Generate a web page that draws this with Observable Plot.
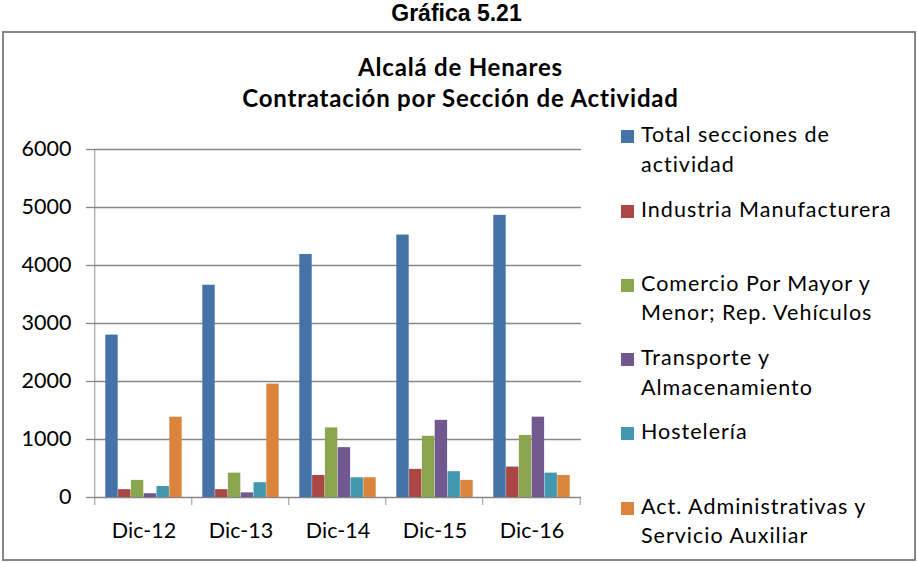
<!DOCTYPE html>
<html>
<head>
<meta charset="utf-8">
<script src="https://cdn.jsdelivr.net/npm/d3@7"></script>
<script src="https://cdn.jsdelivr.net/npm/@observablehq/plot@0.6"></script>
<style>
  html, body { margin: 0; padding: 0; background: #fff; }
  body { width: 917px; height: 563px; position: relative; overflow: hidden; font-family: Lato, sans-serif; color: #000; }
  #sup { position: absolute; left: 0; top: 0px; width: 913px; text-align: center; font: bold 23px "Liberation Sans", Arial, sans-serif; line-height: 26px; }
  #box { position: absolute; left: 2px; top: 31px; width: 914px; height: 530px; border: 2px solid #878787; box-sizing: border-box; }
  #title { position: absolute; left: 0; top: 51px; width: 921px; text-align: center; font-weight: bold; font-size: 24px; letter-spacing: 0.8px; line-height: 31px; }
  #chart { position: absolute; left: 0; top: 130px; }
  .lg { position: absolute; left: 641px; font-size: 21.5px; letter-spacing: 1px; line-height: 29.5px; white-space: nowrap; }
  .sw { position: absolute; left: 621px; width: 13px; height: 13px; }
</style>
</head>
<body>
<div id="sup">Gráfica 5.21</div>
<div id="box"></div>
<div id="title">Alcalá de Henares<br>Contratación por Sección de Actividad</div>
<div id="chart"></div>
<div id="legend"></div>
<script>
// ---- data ----
const categories = ["Dic-12", "Dic-13", "Dic-14", "Dic-15", "Dic-16"];
const seriesNames = [
  "Total secciones de actividad",
  "Industria Manufacturera",
  "Comercio Por Mayor y Menor; Rep. Vehículos",
  "Transporte y Almacenamiento",
  "Hostelería",
  "Act. Administrativas y Servicio Auxiliar"
];
const legendLines = [
  ["Total secciones de", "actividad"],
  ["Industria Manufacturera"],
  ["Comercio Por Mayor y", "Menor; Rep. Vehículos"],
  ["Transporte y", "Almacenamiento"],
  ["Hostelería"],
  ["Act. Administrativas y", "Servicio Auxiliar"]
];
const totalSecciones = [2800, 3660, 4190, 4525, 4865];
const industria = [135, 135, 380, 485, 525];
const comercio = [295, 420, 1200, 1055, 1070];
const transporte = [65, 80, 860, 1330, 1385];
const hosteleria = [190, 255, 340, 445, 420];
const administrativas = [1385, 1955, 340, 295, 380];
const yTicks = [0, 1000, 2000, 3000, 4000, 5000, 6000];
const colors = ["#4572A7", "#AA4643", "#89A54E", "#71588F", "#4198AF", "#DB843D"];

const seriesValues = [totalSecciones, industria, comercio, transporte, hosteleria, administrativas];

// ---- layout ----
const W = 600, H = 430, mL = 94, mR = 19, mT = 19, mB = 63;
const step = (W - mL - mR) / categories.length;
const barW = 12.8;
const off = (step - barW * seriesValues.length) / 2;
const grey = "#878787";

const rows = seriesValues.map((vals, s) =>
  categories.map((c, j) => ({category: c, series: seriesNames[s], value: vals[j]}))
);

const barMarks = rows.map((data, s) =>
  Plot.barY(data, {
    x: "category",
    y: "value",
    fill: colors[s],
    insetLeft: off + s * barW,
    insetRight: step - off - (s + 1) * barW
  })
);

const lw = 1.3;
const plot = Plot.plot({
  width: W,
  height: H,
  marginLeft: mL,
  marginRight: mR,
  marginTop: mT,
  marginBottom: mB,
  style: {fontFamily: "Lato, sans-serif", fontSize: "21.5px", background: "transparent", color: "#000"},
  x: {type: "band", domain: categories, padding: 0, axis: null},
  y: {domain: [0, 6000], axis: null},
  marks: [
    Plot.ruleY(yTicks, {stroke: grey, strokeWidth: lw}),
    // y axis line
    Plot.barY([categories[0]], {x: d => d, y1: 0, y2: 6000, fill: grey, insetLeft: -lw / 2, insetRight: step - lw / 2}),
    // category boundary ticks
    Plot.barY(categories, {x: d => d, y1: 0, y2: 0, fill: grey, insetLeft: -lw / 2, insetRight: step - lw / 2, insetBottom: -8}),
    Plot.barY([categories[categories.length - 1]], {x: d => d, y1: 0, y2: 0, fill: grey, insetLeft: step - lw / 2, insetRight: -lw / 2, insetBottom: -8}),
    ...barMarks,
    Plot.axisY({ticks: yTicks, tickSize: 8, tickPadding: 15, stroke: grey, strokeWidth: lw, fill: "#000", label: null, tickFormat: d => String(d)}),
    Plot.axisX({tickSize: 0, tickPadding: 25, fill: "#000", label: null})
  ]
});
document.getElementById("chart").appendChild(plot);

// ---- legend ----
const legend = document.getElementById("legend");
const entryStep = 74.3;
legendLines.forEach((lines, k) => {
  const sw = document.createElement("div");
  sw.className = "sw";
  sw.style.top = (130.2 + k * entryStep) + "px";
  sw.style.background = colors[k];
  legend.appendChild(sw);
  const t = document.createElement("div");
  t.className = "lg";
  t.style.top = (120.2 + k * entryStep) + "px";
  lines.forEach((ln, i) => {
    if (i) t.appendChild(document.createElement("br"));
    t.appendChild(document.createTextNode(ln));
  });
  legend.appendChild(t);
});
</script>
</body>
</html>
